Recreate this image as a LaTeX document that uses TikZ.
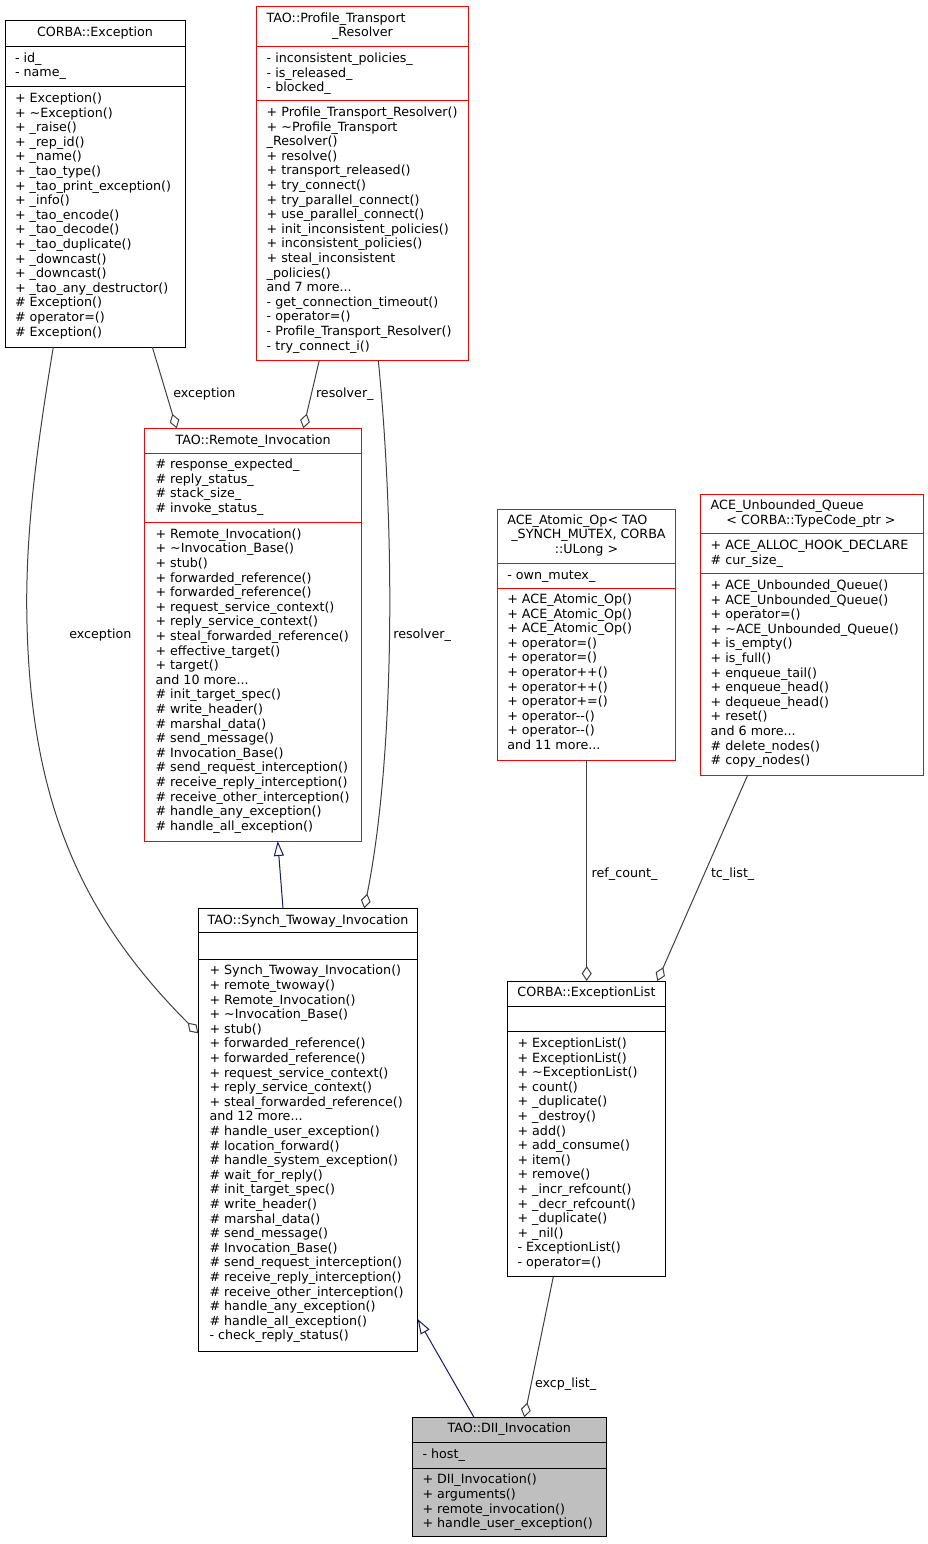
\documentclass[tikz,border=0pt]{standalone}
\usepackage{fontspec}
\setmainfont{DejaVu Sans}
\usetikzlibrary{arrows.meta,calc}
\definecolor{edgegray}{HTML}{404040}
\definecolor{inhnavy}{HTML}{191970}
\definecolor{boxred}{HTML}{FF0000}
\definecolor{boxgray}{HTML}{BFBFBF}
\tikzset{
  txt/.style={anchor=base west, inner sep=0pt, outer sep=0pt, font=\fontsize{12.7}{14.6}\selectfont},
  ctxt/.style={txt, anchor=base},
  blackbox/.style={draw=black, rectangle, inner sep=0pt, outer sep=0pt, line width=1pt},
  redbox/.style={draw=boxred, rectangle, inner sep=0pt, outer sep=0pt, line width=1pt},
  graybox/.style={blackbox, fill=boxgray},
  sepblack/.style={draw=black, line width=1pt},
  sepred/.style={draw=boxred, line width=1pt},
  agg/.style={draw=edgegray, line width=1pt, -{Diamond[open,length=15pt,width=10pt]}},
  inh/.style={draw=inhnavy, line width=1pt, -{Triangle[open,length=15pt,width=10pt]}},
  elabel/.style={txt}
}
\newcommand\mydots{...}
% name, style, L, T, R, B
\newcommand\umlbox[6]{\node[#2, minimum width={#5-#3}, minimum height={#6-#4}] (#1) at ({(#3+#5)/2},{(#4+#6)/2}) {};}
% name prefix, x, first baseline, list
\newcommand\mlines[4]{\foreach \t [count=\i from 0] in {#4} {\node[txt] (#1\i) at (#2,{#3+14.6*\i}) {\t};}}
\begin{document}
\begin{tikzpicture}[x=1pt,y=-1pt]
\fill[white] (0,0) rectangle (928,1544);
\useasboundingbox (0,0) rectangle (928,1544);

% ---------------- CORBA::Exception
\umlbox{exc}{blackbox}{5}{21}{185}{347}
\draw[sepblack] (5,46.7) -- (185,46.7);
\draw[sepblack] (5,86.7) -- (185,86.7);
\node[ctxt] (exct) at (95,36.9) {CORBA::Exception};
\mlines{exca}{15}{62.2}{- id\_, - name\_}
\mlines{excm}{15}{102.5}{+ Exception(), + \textasciitilde{}Exception(), + \_raise(), + \_rep\_id(), + \_name(), + \_tao\_type(), + \_tao\_print\_exception(), + \_info(), + \_tao\_encode(), + \_tao\_decode(), + \_tao\_duplicate(), + \_downcast(), + \_downcast(), + \_tao\_any\_destructor(), \# Exception(), \# operator=(), \# Exception()}

% ---------------- TAO::Profile_Transport_Resolver
\umlbox{ptr}{redbox}{256.7}{6.7}{468.3}{360.3}
\draw[sepred] (256.7,46.7) -- (468.3,46.7);
\draw[sepred] (256.7,100.7) -- (468.3,100.7);
\node[txt] (ptrt1) at (266.7,22.5) {TAO::Profile\_Transport};
\node[ctxt] (ptrt2) at (362.5,36.9) {\_Resolver};
\mlines{ptra}{266.7}{62.5}{- inconsistent\_policies\_, - is\_released\_, - blocked\_}
\mlines{ptrm}{266.7}{116.5}{+ Profile\_Transport\_Resolver(), + \textasciitilde{}Profile\_Transport, \_Resolver(), + resolve(), + transport\_released(), + try\_connect(), + try\_parallel\_connect(), + use\_parallel\_connect(), + init\_inconsistent\_policies(), + inconsistent\_policies(), + steal\_inconsistent, \_policies(), and 7 more\mydots, - get\_connection\_timeout(), - operator=(), - Profile\_Transport\_Resolver(), - try\_connect\_i()}

% ---------------- TAO::Remote_Invocation
\umlbox{ri}{redbox}{144.7}{428.3}{361.7}{841}
\draw[sepred] (144.7,453.3) -- (361.7,453.3);
\draw[sepred] (144.7,522.7) -- (361.7,522.7);
\node[ctxt] (rit) at (253.2,444.2) {TAO::Remote\_Invocation};
\mlines{ria}{155.5}{468.5}{\# response\_expected\_, \# reply\_status\_, \# stack\_size\_, \# invoke\_status\_}
\mlines{rim}{155.5}{538.2}{+ Remote\_Invocation(), + \textasciitilde{}Invocation\_Base(), + stub(), + forwarded\_reference(), + forwarded\_reference(), + request\_service\_context(), + reply\_service\_context(), + steal\_forwarded\_reference(), + effective\_target(), + target(), and 10 more\mydots, \# init\_target\_spec(), \# write\_header(), \# marshal\_data(), \# send\_message(), \# Invocation\_Base(), \# send\_request\_interception(), \# receive\_reply\_interception(), \# receive\_other\_interception(), \# handle\_any\_exception(), \# handle\_all\_exception()}

% ---------------- ACE_Atomic_Op
\umlbox{aao}{redbox}{497.3}{509}{675.7}{760}
\draw[sepred] (497.3,563) -- (675.7,563);
\draw[sepred] (497.3,588.3) -- (675.7,588.3);
\node[txt] (aaot1) at (507.3,524.5) {ACE\_Atomic\_Op< TAO};
\node[ctxt] (aaot2) at (588.5,538.9) {\_SYNCH\_MUTEX, CORBA};
\node[ctxt] (aaot3) at (586.5,553.5) {::ULong >};
\mlines{aaoa}{507.3}{579.2}{- own\_mutex\_}
\mlines{aaom}{507.3}{603.5}{+ ACE\_Atomic\_Op(), + ACE\_Atomic\_Op(), + ACE\_Atomic\_Op(), + operator=(), + operator=(), + operator++(), + operator++(), + operator+=(), + operator-\kern0pt-(), + operator-\kern0pt-(), and 11 more\mydots}

% ---------------- ACE_Unbounded_Queue
\umlbox{auq}{redbox}{700.7}{494.3}{923.3}{775}
\draw[sepred] (700.7,533.3) -- (923.3,533.3);
\draw[sepred] (700.7,573.7) -- (923.3,573.7);
\node[txt] (auqt1) at (710.7,509.5) {ACE\_Unbounded\_Queue};
\node[ctxt] (auqt2) at (811,524.2) {< CORBA::TypeCode\_ptr >};
\mlines{auqa}{710.7}{549.5}{+ ACE\_ALLOC\_HOOK\_DECLARE, \# cur\_size\_}
\mlines{auqm}{710.7}{589.5}{+ ACE\_Unbounded\_Queue(), + ACE\_Unbounded\_Queue(), + operator=(), + \textasciitilde{}ACE\_Unbounded\_Queue(), + is\_empty(), + is\_full(), + enqueue\_tail(), + enqueue\_head(), + dequeue\_head(), + reset(), and 6 more\mydots, \# delete\_nodes(), \# copy\_nodes()}

% ---------------- TAO::Synch_Twoway_Invocation
\umlbox{sti}{blackbox}{198.3}{908.3}{417.7}{1351}
\draw[sepblack] (198.3,932.7) -- (417.7,932.7);
\draw[sepblack] (198.3,959) -- (417.7,959);
\node[ctxt] (stit) at (308,924.2) {TAO::Synch\_Twoway\_Invocation};
\mlines{stim}{209.5}{974.9}{+ Synch\_Twoway\_Invocation(), + remote\_twoway(), + Remote\_Invocation(), + \textasciitilde{}Invocation\_Base(), + stub(), + forwarded\_reference(), + forwarded\_reference(), + request\_service\_context(), + reply\_service\_context(), + steal\_forwarded\_reference(), and 12 more\mydots, \# handle\_user\_exception(), \# location\_forward(), \# handle\_system\_exception(), \# wait\_for\_reply(), \# init\_target\_spec(), \# write\_header(), \# marshal\_data(), \# send\_message(), \# Invocation\_Base(), \# send\_request\_interception(), \# receive\_reply\_interception(), \# receive\_other\_interception(), \# handle\_any\_exception(), \# handle\_all\_exception(), - check\_reply\_status()}

% ---------------- CORBA::ExceptionList
\umlbox{el}{blackbox}{507.3}{981}{665.7}{1276.7}
\draw[sepblack] (507.3,1006.7) -- (665.7,1006.7);
\draw[sepblack] (507.3,1031.3) -- (665.7,1031.3);
\node[ctxt] (elt) at (586.5,996.5) {CORBA::ExceptionList};
\mlines{elm}{517.5}{1047.5}{+ ExceptionList(), + ExceptionList(), + \textasciitilde{}ExceptionList(), + count(), + \_duplicate(), + \_destroy(), + add(), + add\_consume(), + item(), + remove(), + \_incr\_refcount(), + \_decr\_refcount(), + \_duplicate(), + \_nil(), - ExceptionList(), - operator=()}

% ---------------- TAO::DII_Invocation
\umlbox{dii}{graybox}{412}{1417.3}{606.7}{1536.7}
\draw[sepblack] (412,1442.3) -- (606.7,1442.3);
\draw[sepblack] (412,1468.3) -- (606.7,1468.3);
\node[ctxt] (diit) at (509.3,1432.9) {TAO::DII\_Invocation};
\mlines{diia}{422.5}{1458.5}{- host\_}
\mlines{diim}{422.5}{1483.9}{+ DII\_Invocation(), + arguments(), + remote\_invocation(), + handle\_user\_exception()}

% ---------------- connectors
\coordinate (bend1) at (26.7,600);
\draw[agg] ($(exc.south west)+(147.3,0)$) -- ($(ri.north west)+(32,0)$);
\draw[agg] ($(ptr.south west)+(62.6,0)$) -- ($(ri.north west)+(158.6,0)$);
\draw[agg] ($(ptr.south west)+(121.6,0)$) .. controls (396,540) and (394,760) .. ($(sti.north west)+(166,0)$);
\draw[agg] ($(exc.south west)+(48.3,0)$) .. controls (38,440) and (27,520) .. (bend1) .. controls (27,790) and (75,910) .. ($(sti.north west)+(0,125)$);
\draw[inh] ($(sti.north west)+(84.7,0)$) -- ($(ri.south west)+(133,0)$);
\draw[agg] ($(aao.south west)+(89.4,0)$) -- ($(el.north west)+(79.4,0)$);
\draw[agg] ($(auq.south west)+(47,0)$) -- ($(el.north west)+(150,0)$);
\draw[inh] ($(dii.north west)+(62,0)$) -- ($(sti.north east)+(0,410.7)$);
\draw[agg] ($(el.south west)+(46,0)$) -- ($(dii.north west)+(112.3,0)$);

% ---------------- connector labels
\node[elabel] (l1) at (173.3,397.5) {exception};
\node[elabel] (l2) at (316,397.5) {resolver\_};
\node[elabel] (l3) at (393.3,638.5) {resolver\_};
\node[elabel] (l4) at (69.3,638.5) {exception};
\node[elabel] (l5) at (591.7,877.5) {ref\_count\_};
\node[elabel] (l6) at (711,877.5) {tc\_list\_};
\node[elabel] (l7) at (535,1387.5) {excp\_list\_};
\end{tikzpicture}
\end{document}
